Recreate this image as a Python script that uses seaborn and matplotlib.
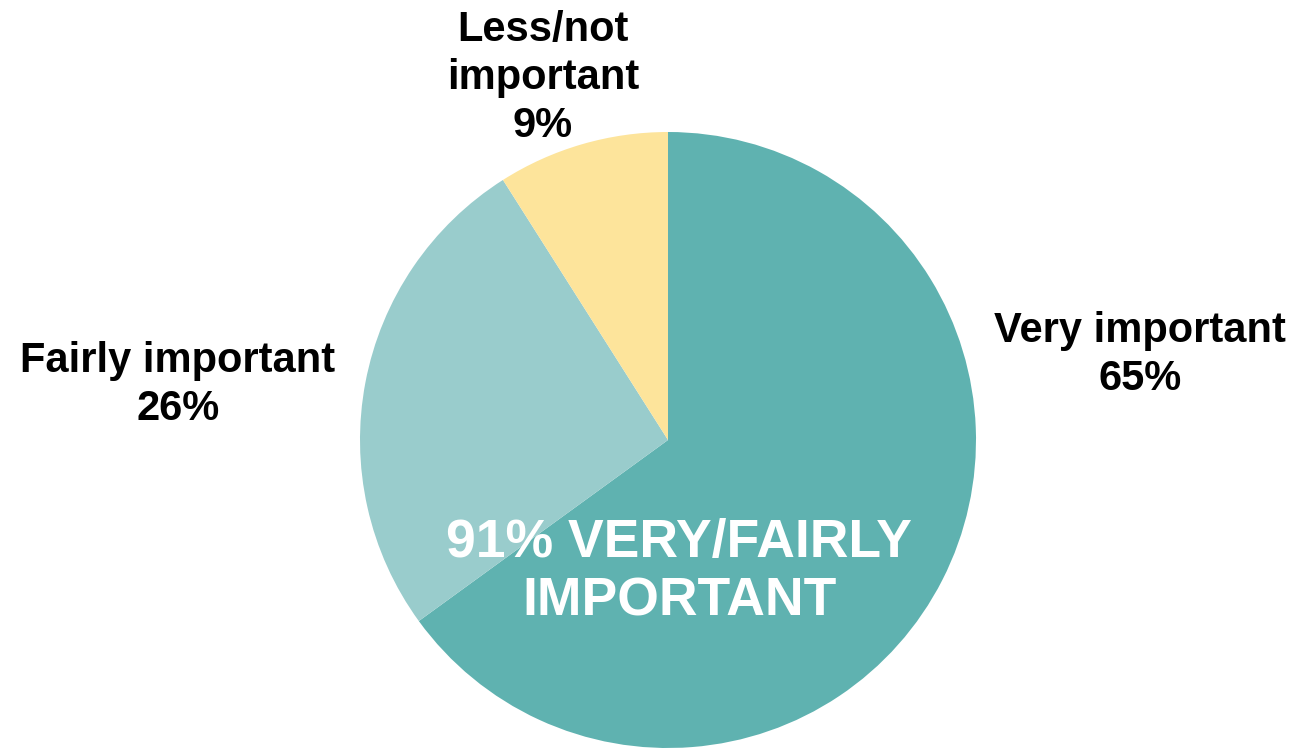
import seaborn as sns
import matplotlib.pyplot as plt

# Data
labels = ["Very important", "Fairly important", "Less/not\nimportant"]
shares = [65, 26, 9]
colors = ["#5fb2b0", "#99cccc", "#fde49b"]

sns.set_theme(style="white")
plt.rcParams['font.family'] = ['Liberation Sans', 'DejaVu Sans']

fig = plt.figure(figsize=(12.96, 7.5), dpi=100)
ax = fig.add_axes([0, 0, 1, 1])

wedges, _ = ax.pie(shares, colors=colors, startangle=90, counterclock=False,
                   radius=1, wedgeprops=dict(linewidth=0))

# label placement (data units, radius = 1)
label_pos = [(1.532, 0.276), (-1.591, 0.179), (-0.406, 1.175)]
for lab, val, (x, y) in zip(labels, shares, label_pos):
    ax.text(x, y, f"{lab}\n{val}%", ha='center', va='center',
            fontsize=30, fontweight='bold', color='black', linespacing=1.25)

total = shares[0] + shares[1]
ax.text(0.036, -0.428, f"{total}% VERY/FAIRLY\nIMPORTANT", ha='center', va='center',
        fontsize=38.5, fontweight='bold', color='white', linespacing=1.22)

ax.set_xlim(-668 / 308, (1296 - 668) / 308)
ax.set_ylim(-310 / 308, 440 / 308)
ax.set_aspect('auto')
ax.axis('off')

fig.savefig("out.png", dpi=100)
